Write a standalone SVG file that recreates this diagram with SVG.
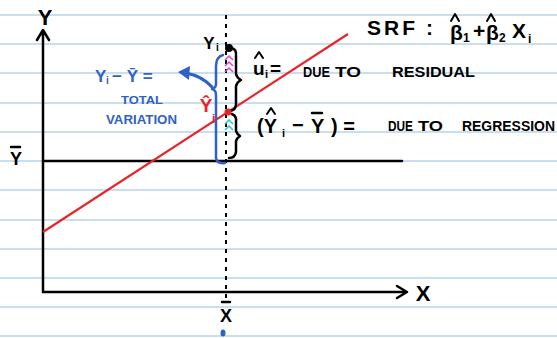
<svg xmlns="http://www.w3.org/2000/svg" width="557" height="338" viewBox="0 0 557 338">
<style>
.rule{stroke:#c9dff0;stroke-width:2}
.ax{stroke:#000;stroke-width:2.5;fill:none;stroke-linecap:round;stroke-linejoin:round}
.hw{font-family:"Liberation Sans",Arial,sans-serif;font-weight:bold;fill:#000}
.bl{fill:#2e62c4;font-family:"Liberation Sans",Arial,sans-serif;font-weight:bold}
.brace{fill:none;stroke-width:2.5;stroke-linecap:round;stroke-linejoin:round}
.hat{fill:none;stroke:#000;stroke-width:2;stroke-linecap:round;stroke-linejoin:round}
</style>
<rect width="557" height="338" fill="#fff"/>
<g id="paper">
<line class="rule" x1="0" y1="15" x2="557" y2="15"/>
<line class="rule" x1="0" y1="44" x2="557" y2="44"/>
<line class="rule" x1="0" y1="73" x2="557" y2="73"/>
<line class="rule" x1="0" y1="103" x2="557" y2="103"/>
<line class="rule" x1="0" y1="132" x2="557" y2="132"/>
<line class="rule" x1="0" y1="161" x2="557" y2="161"/>
<line class="rule" x1="0" y1="190" x2="557" y2="190"/>
<line class="rule" x1="0" y1="220" x2="557" y2="220"/>
<line class="rule" x1="0" y1="249" x2="557" y2="249"/>
<line class="rule" x1="0" y1="278" x2="557" y2="278"/>
<line class="rule" x1="0" y1="307" x2="557" y2="307"/>
<line class="rule" x1="0" y1="336" x2="557" y2="336"/>
</g>
<g id="axes">
<path class="ax" d="M43 292 V31 M37 40 L43 30 L49 40"/>
<path class="ax" d="M43 292 H406 M397 286 L407 292 L397 298"/>
<line class="ax" x1="43" y1="161" x2="402" y2="161"/>
<text class="hw" x="45" y="25" font-size="22" text-anchor="middle">Y</text>
<text class="hw" x="423" y="301" font-size="22" text-anchor="middle">X</text>
<text class="hw" x="16" y="165" font-size="18" text-anchor="middle">Y</text>
<line class="ax" x1="11" y1="147" x2="20" y2="147"/>
<text class="hw" x="226" y="322" font-size="18" text-anchor="middle">X</text>
<line class="ax" x1="222" y1="302" x2="230" y2="302"/>
<ellipse cx="223" cy="333" rx="2.5" ry="3.5" fill="#2e62c4"/>
</g>
<g id="connectors">
<line x1="43" y1="232" x2="348" y2="34" stroke="#e8232a" stroke-width="2.2"/>
<line x1="226" y1="15" x2="226" y2="300" stroke="#000" stroke-width="2" stroke-dasharray="4 5"/>
<path class="brace" stroke="#2e62c4" d="M223 55 Q216 57 216 66 V84 Q216 88 212 89 Q216 90 216 95 V158 Q217 164 225 163"/>
<path class="brace" stroke="#000" d="M231 48 Q237 49 236 56 V74 Q237 78 241 80 Q237 82 236 86 V104 Q236 110 230 111"/>
<path class="brace" stroke="#000" d="M232 114 Q237 116 236 122 V131 Q237 134 240 136 Q237 138 236 141 V152 Q235 158 229 158"/>
<path d="M225 60 L229 56 L233 60 M225 66 L229 62 L233 66 M225 72 L229 68 L233 72" fill="none" stroke="#e040d8" stroke-width="1.5"/>
<path d="M225 124 L229 120 L233 124 M225 130 L229 126 L233 130" fill="none" stroke="#25c6d8" stroke-width="1.5"/>
<circle cx="229" cy="48" r="4" fill="#000"/>
<circle cx="228" cy="112" r="3.5" fill="#e8232a"/>
<path d="M212 87 Q202 76 186 73" fill="none" stroke="#2e62c4" stroke-width="3" stroke-linecap="round"/>
<path d="M178 72 L190 66 L189 80 Z" fill="#2e62c4"/>
</g>
<g id="labels">
<text class="hw" x="209" y="49" font-size="17" text-anchor="middle">Y</text>
<text class="hw" x="216" y="51" font-size="10">i</text>
<text x="206" y="112" font-size="19" font-family="Liberation Sans,Arial,sans-serif" font-weight="bold" fill="#e8232a" text-anchor="middle">Ŷ</text>
<text x="212" y="123" font-size="12" font-family="Liberation Sans,Arial,sans-serif" font-weight="bold" fill="#e8232a">i</text>
<text class="hw" x="253" y="75" font-size="19">u</text>
<path class="hat" d="M255 58 L259 52 L263 58"/>
<text class="hw" x="265" y="78" font-size="11">i</text>
<text class="hw" x="270" y="75" font-size="19">=</text>
<text class="hw" x="303" y="77" font-size="14" textLength="27" lengthAdjust="spacingAndGlyphs">DUE</text>
<text class="hw" x="335" y="77" font-size="14" textLength="26" lengthAdjust="spacingAndGlyphs">TO</text>
<text class="hw" x="392" y="77" font-size="14" textLength="83" lengthAdjust="spacingAndGlyphs">RESIDUAL</text>
<text class="hw" x="367" y="35" font-size="21" letter-spacing="3">SRF</text>
<text class="hw" x="426" y="35" font-size="21">:</text>
<text class="hw" x="450" y="40" font-size="21">β</text>
<path class="hat" d="M451 21 L455 14 L459 21"/>
<text class="hw" x="463" y="42" font-size="12">1</text>
<text class="hw" x="473" y="38" font-size="21">+</text>
<text class="hw" x="486" y="40" font-size="21">β</text>
<path class="hat" d="M487 21 L491 14 L495 21"/>
<text class="hw" x="499" y="42" font-size="12">2</text>
<text class="hw" x="512" y="38" font-size="21">X</text>
<text class="hw" x="528" y="43" font-size="12">i</text>
<text class="hw" x="257" y="133" font-size="20">(Y</text>
<path class="hat" d="M267 114 L271 108 L275 114"/>
<text class="hw" x="282" y="137" font-size="11">i</text>
<text class="hw" x="292" y="132" font-size="20">−</text>
<text class="hw" x="311" y="133" font-size="20">Y</text>
<line class="ax" x1="312" y1="113" x2="322" y2="113"/>
<text class="hw" x="331" y="133" font-size="20">) =</text>
<text class="hw" x="388" y="131" font-size="14" textLength="25" lengthAdjust="spacingAndGlyphs">DUE</text>
<text class="hw" x="418" y="131" font-size="14" textLength="25" lengthAdjust="spacingAndGlyphs">TO</text>
<text class="hw" x="462" y="131" font-size="14" textLength="93" lengthAdjust="spacingAndGlyphs">REGRESSION</text>
<text class="bl" x="95" y="82" font-size="17">Y</text>
<text class="bl" x="106" y="84" font-size="10">i</text>
<text class="bl" x="112" y="82" font-size="17">− Ȳ =</text>
<text class="bl" x="121" y="104" font-size="11" textLength="42" lengthAdjust="spacingAndGlyphs">TOTAL</text>
<text class="bl" x="106" y="124" font-size="13" textLength="71" lengthAdjust="spacingAndGlyphs">VARIATION</text>
</g>
</svg>
